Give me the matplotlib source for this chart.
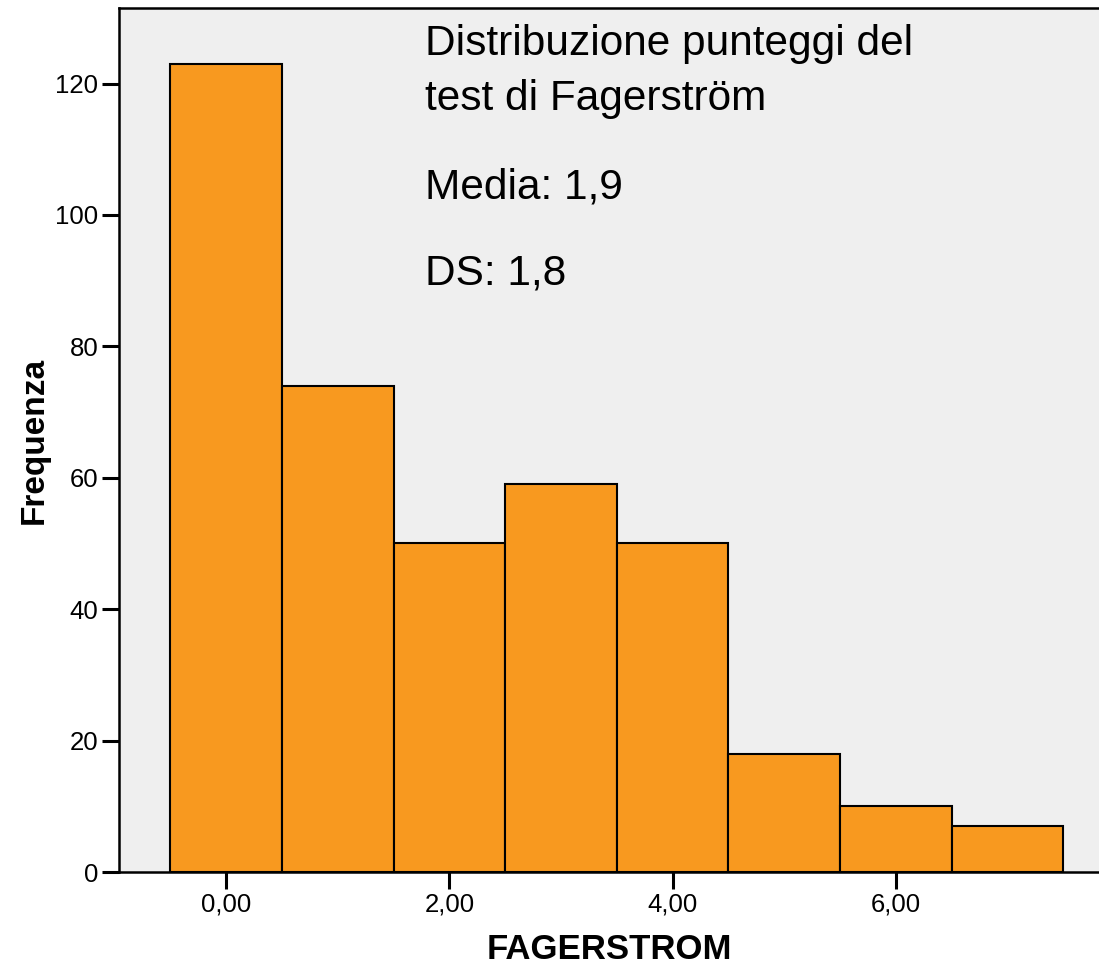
"""Istogramma dei punteggi del test di Fagerström."""

import matplotlib.pyplot as plt

# Dati
punteggi = [0, 1, 2, 3, 4, 5, 6, 7]
frequenze = [123, 74, 50, 59, 50, 18, 10, 7]
x_ticks = [0, 2, 4, 6]
x_tick_labels = ["0,00", "2,00", "4,00", "6,00"]
y_ticks = [0, 20, 40, 60, 80, 100, 120]
titolo = ["Distribuzione punteggi del", "test di Fagerström"]
statistiche = ["Media: 1,9", "DS: 1,8"]

plt.rcParams["font.family"] = ["Liberation Sans", "DejaVu Sans"]

fig = plt.figure(figsize=(10.99, 9.66), dpi=100)
ax = fig.add_axes([119 / 1099, 94 / 966, 980 / 1099, 864 / 966])
ax.set_facecolor("#efefef")

ax.bar(punteggi, frequenze, width=1.0, color="#f8991f",
       edgecolor="black", linewidth=1.5, zorder=2)

ax.set_xlim(-0.96, 7.82)
ax.set_ylim(0, 131.5)
ax.set_xticks(x_ticks)
ax.set_xticklabels(x_tick_labels)
ax.set_yticks(y_ticks)
ax.tick_params(axis="both", direction="out", length=12, width=2.2,
               labelsize=18.5, pad=3)

for side in ["left", "bottom", "top"]:
    ax.spines[side].set_linewidth(1.8)
ax.spines["right"].set_visible(False)

ax.set_xlabel("FAGERSTROM", fontsize=25, fontweight="bold")
ax.set_ylabel("Frequenza", fontsize=24, fontweight="bold")
ax.xaxis.set_label_coords(0.5, -0.071)
ax.yaxis.set_label_coords(-0.071, 0.5)

# Testo dentro il grafico (posizioni in coordinate degli assi)
righe = titolo + statistiche
baseline_px = [55, 110, 198, 285]
for riga, yb in zip(righe, baseline_px):
    ax.text(0.312, (872 - yb) / 864, riga, transform=ax.transAxes,
            fontsize=30.5, va="baseline", ha="left")

OUTPUT_PATH = "out.png"
plt.savefig(OUTPUT_PATH, dpi=100)
print(f"Chart saved to {OUTPUT_PATH}")
plt.close()
